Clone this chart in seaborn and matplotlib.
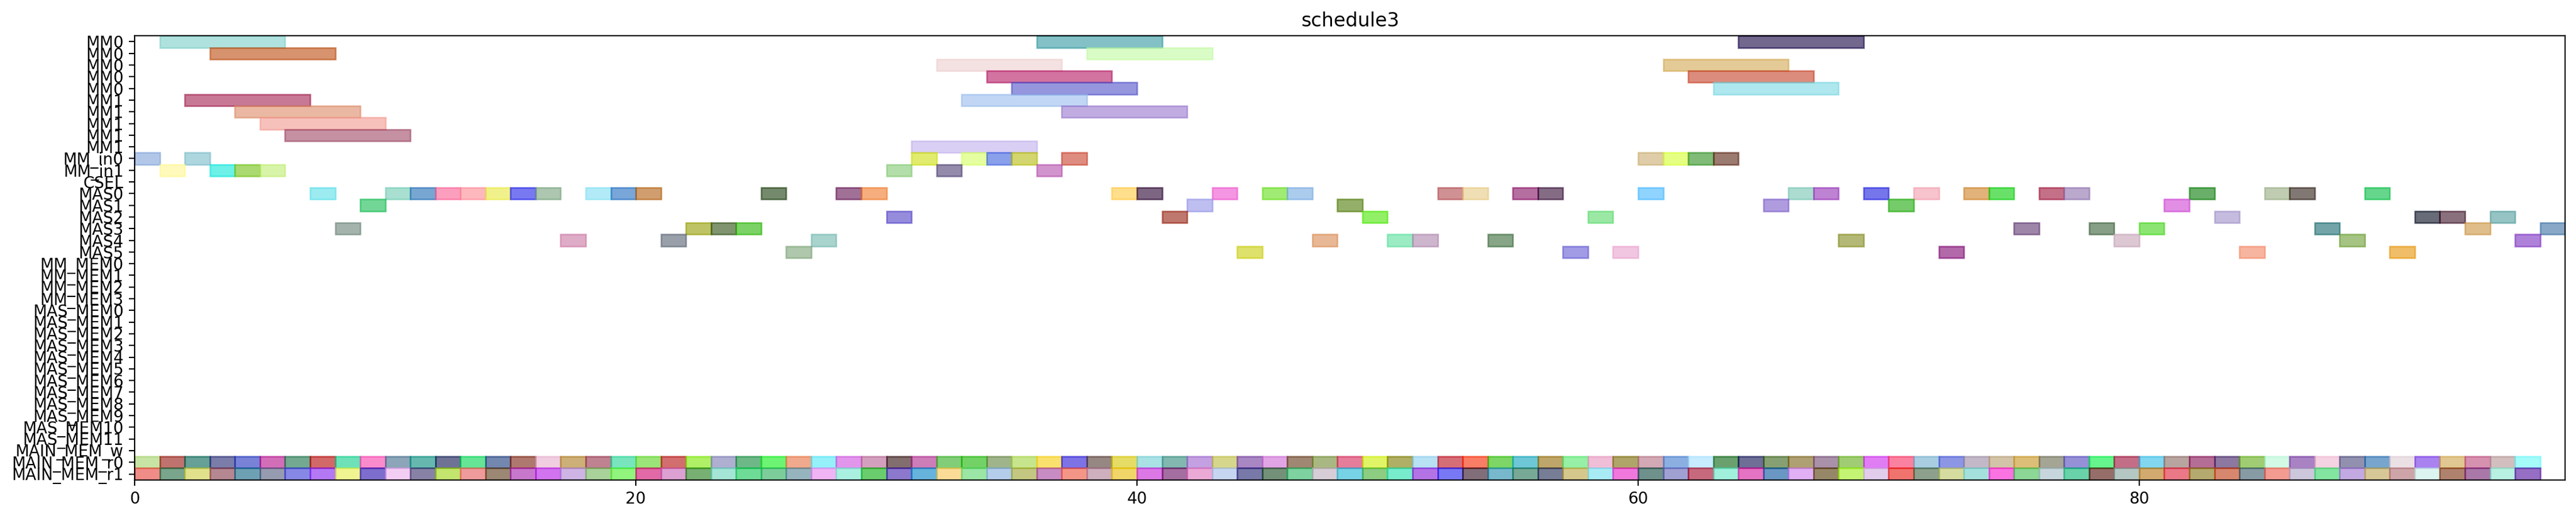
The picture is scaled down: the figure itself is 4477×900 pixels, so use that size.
import numpy as np
import seaborn as sns
import matplotlib.pyplot as plt
from matplotlib.colors import to_rgb

# resource rows, top to bottom
row_labels = ['MM0', 'MM0', 'MM0', 'MM0', 'MM0',
              'MM1', 'MM1', 'MM1', 'MM1', 'MM1',
              'MM_in0', 'MM_in1', 'CSEL',
              'MAS0', 'MAS1', 'MAS2', 'MAS3', 'MAS4', 'MAS5',
              'MM_MEM0', 'MM_MEM1', 'MM_MEM2', 'MM_MEM3',
              'MAS_MEM0', 'MAS_MEM1', 'MAS_MEM2', 'MAS_MEM3', 'MAS_MEM4', 'MAS_MEM5',
              'MAS_MEM6', 'MAS_MEM7', 'MAS_MEM8', 'MAS_MEM9', 'MAS_MEM10', 'MAS_MEM11',
              'MAIN_MEM_w', 'MAIN_MEM_r0', 'MAIN_MEM_r1']

# task start times per row (rows 0..18), all other rows only hold memory slots
row_starts = [
    [1, 36, 64],
    [3, 38],
    [32, 61],
    [34, 62],
    [35, 63],
    [2, 33],
    [4, 37],
    [5],
    [6],
    [31],
    [0, 2, 31, 33, 34, 35, 37, 60, 61, 62, 63],
    [1, 3, 4, 5, 30, 32, 36],
    [],
    [7, 10, 11, 12, 13, 14, 15, 16, 18, 19, 20, 25, 28, 29, 39, 40, 43, 45, 46,
     52, 53, 55, 56, 60, 66, 67, 69, 71, 73, 74, 76, 77, 82, 85, 86, 89],
    [9, 42, 48, 65, 70, 81],
    [30, 41, 49, 58, 83, 91, 92, 94],
    [8, 22, 23, 24, 75, 78, 80, 87, 93, 96],
    [17, 21, 27, 47, 50, 51, 54, 68, 79, 88, 95],
    [26, 44, 57, 59, 72, 84, 90],
]

# task durations per row
row_durations = [5, 5, 5, 5, 5, 5, 5, 5, 5, 5, 1, 1, 1, 1, 1, 1, 1, 1, 1]

# colours as seen on the picture (already blended with white)
row_colors = [
    ['#b0e2de', '#83c2c6', '#72688e'],
    ['#d6936e', '#dafcc8'],
    ['#f5e1e1', '#e4cb96'],
    ['#d273a0', '#dc8c7d'],
    ['#9696de', '#aee7ee'],
    ['#c67894', '#c1d6f5'],
    ['#eab8a2', '#c0ace1'],
    ['#f8c2bc'],
    ['#c490a2'],
    ['#dacff5'],
    ['#b2c8e8', '#aed6de', '#e1eb6e', '#e6ffa0', '#8aa0eb', '#d4d76e', '#de8c80',
     '#decea8', '#e6ff82', '#80bc78', '#9b7a70'],
    ['#fffabc', '#6cf0e8', '#aada70', '#d8f4a8', '#b4deaa', '#948aaa', '#d294cd'],
    [],
    ['#9bebf2', '#a8e0d0', '#78a6d2', '#fc9ebe', '#feb8be', '#f2f28c', '#7878f2',
     '#acc6b0', '#b2ecf8', '#78a6d8', '#d09e6e', '#75896c', '#a07096', '#f6ae7e',
     '#ffde8c', '#7d6482', '#f596e1', '#a0eb73', '#accced', '#d09194', '#f0deb4',
     '#b66ea0', '#846c84', '#8fd4ff', '#acdcd0', '#be82d4', '#7676eb', '#f7c3cd',
     '#e1b27a', '#69e169', '#c47087', '#baa8ce', '#69af69', '#c0ccb2', '#827873',
     '#66d78c'],
    ['#72d696', '#bebef0', '#94af69', '#b09cde', '#75ca69', '#e18ee4'],
    ['#968cdc', '#be786e', '#91f05f', '#9be8a5', '#c4bcde', '#686c78', '#8a707d',
     '#96c3c3'],
    ['#a4b4ac', '#bec45a', '#809470', '#7cd264', '#9e86a8', '#879e87', '#8ce673',
     '#73a5a8', '#e0be8c', '#89a8c8'],
    ['#e0acc8', '#9aa0aa', '#aad4ce', '#e8b996', '#9bebc3', '#cdb6cd', '#87a587',
     '#b4b976', '#dcc8d4', '#a5c382', '#b082da'],
    ['#afc8ac', '#dee16c', '#a09be4', '#f2c6e1', '#b269aa', '#f8b6a0', '#f0be69'],
]

# main memory read slots, one per time step
mem_slots = list(range(96))
mem_r0_colors = [
    '#c8e4a5', '#be736e', '#64a096', '#7a7daa', '#7882d7', '#d26eb9', '#73aa91', '#d26969',
    '#6ee1b9', '#fa8ccd', '#8ca5b9', '#64b9af', '#6e7396', '#64e696', '#7387af', '#af786e',
    '#f0cde1', '#cdaf78', '#be8291', '#78e6be', '#9be678', '#d26e6e', '#aff064', '#afafd2',
    '#6eb987', '#6ef573', '#f0aa8c', '#96f0fa', '#e196eb', '#d2a0be', '#826e6e', '#cd7db9',
    '#82cd78', '#73d25f', '#a0b48c', '#c8e68c', '#fae16e', '#7d73e6', '#968782', '#e6dc64',
    '#aae1e6', '#82b9af', '#c3a0e1', '#d7d78c', '#aa87c3', '#e1a5e6', '#a08773', '#aab982',
    '#e67d9b', '#e1f564', '#afaf64', '#b9e1f5', '#d76e78', '#fa7d64', '#7dd75f', '#6ec8d7',
    '#bea569', '#96f0a5', '#f0bed7', '#afa569', '#d2aab4', '#8cafe1', '#c8ebff', '#69a06e',
    '#6e6e96', '#87a073', '#afa073', '#aa91aa', '#a0cd73', '#e17df5', '#fa82a0', '#aacde1',
    '#8c96e6', '#c3b9c8', '#d2c3aa', '#dcbe78', '#a5a596', '#9691d7', '#64f58c', '#c36e87',
    '#82d7f0', '#b9a5a0', '#b46e96', '#8c78a0', '#a0cd73', '#d2fae6', '#aa82c3', '#f5d2e1',
    '#9191af', '#78a5cd', '#ebe1e6', '#aa82f0', '#e1c891', '#d791af', '#d2bebe', '#a5fafa',
]
mem_r1_colors = [
    '#f08c87', '#78a58c', '#e1e18c', '#b48791', '#6ea0b4', '#969baf', '#8787e6', '#b478f5',
    '#f0f591', '#7d6ecd', '#f5cdf5', '#8782a5', '#c3e66e', '#f09b9b', '#9b8773', '#c878cd',
    '#d273f0', '#cdb4e6', '#aad29b', '#91f57d', '#e169a5', '#dca0d2', '#78af73', '#a5e6d7',
    '#6edc96', '#7dcd9b', '#96b4be', '#f0b4f5', '#aaf0e1', '#69cd6e', '#8c78cd', '#64b4dc',
    '#fadc96', '#9be6a5', '#b4cdeb', '#c3c882', '#c88cc3', '#f59687', '#cdafbe', '#f0d769',
    '#dc78e6', '#a56ea0', '#ebaad7', '#c8d7f0', '#7878aa', '#739178', '#7dd2a0', '#d7cdd7',
    '#78d2e6', '#8ccd82', '#78ebcd', '#b473e6', '#7878f5', '#826e78', '#78b9cd', '#78aa96',
    '#787d96', '#d7c88c', '#aaebf5', '#f078dc', '#6e918c', '#a0a0d2', '#c8697d', '#a0f0dc',
    '#e673c3', '#6996c3', '#e1aff5', '#968769', '#c3f573', '#e1cdeb', '#f0736e', '#8ca08c',
    '#d7dca0', '#a5e1dc', '#fa73e1', '#8cd796', '#c8d7dc', '#69d2aa', '#966e69', '#b4c8c3',
    '#d2aa6e', '#eb7887', '#b4aa6e', '#d7876e', '#879ba5', '#f59b91', '#cdc8dc', '#82e6a0',
    '#c3aae1', '#d7c896', '#cda5aa', '#dcf5f0', '#af826e', '#aa78aa', '#b9f0e1', '#966ec3',
]

ALPHA = 0.6


def base_color(seen):
    # undo the blend with white so that alpha gives back the seen colour
    rgb = np.array(to_rgb(seen))
    return tuple(np.clip((rgb - (1 - ALPHA)) / ALPHA, 0, 1))


sns.set_theme(style="ticks", rc={
    "font.size": 10, "axes.titlesize": 12,
    "xtick.labelsize": 10, "ytick.labelsize": 10,
    "axes.edgecolor": "black", "axes.linewidth": 0.8,
    "xtick.color": "black", "ytick.color": "black", "text.color": "black",
    "xtick.major.size": 3.5, "ytick.major.size": 3.5,
    "xtick.major.width": 0.8, "ytick.major.width": 0.8,
})
plt.rcParams['font.family'] = ['DejaVu Sans']

fig = plt.figure(figsize=(22.385, 4.5), dpi=200)
ax = fig.add_axes([0.0523, 0.0737, 0.9435, 0.8571])

for row, starts in enumerate(row_starts):
    if not starts:
        continue
    cols = [base_color(c) for c in row_colors[row]]
    ax.barh([row] * len(starts), [row_durations[row]] * len(starts), left=starts,
            height=1, color=cols, edgecolor=cols, linewidth=1, alpha=ALPHA)

for row, colors in ((36, mem_r0_colors), (37, mem_r1_colors)):
    cols = [base_color(c) for c in colors]
    ax.barh([row] * len(mem_slots), [1] * len(mem_slots), left=mem_slots,
            height=1, color=cols, edgecolor=cols, linewidth=1, alpha=ALPHA)

ax.set_yticks(range(len(row_labels)))
ax.set_yticklabels(row_labels)
ax.set_ylim(len(row_labels) - 0.5, -0.5)
ax.set_xlim(0, 97)
ax.set_xticks([0, 20, 40, 60, 80])
ax.set_title("schedule3")

fig.savefig("out.png", dpi=200)
